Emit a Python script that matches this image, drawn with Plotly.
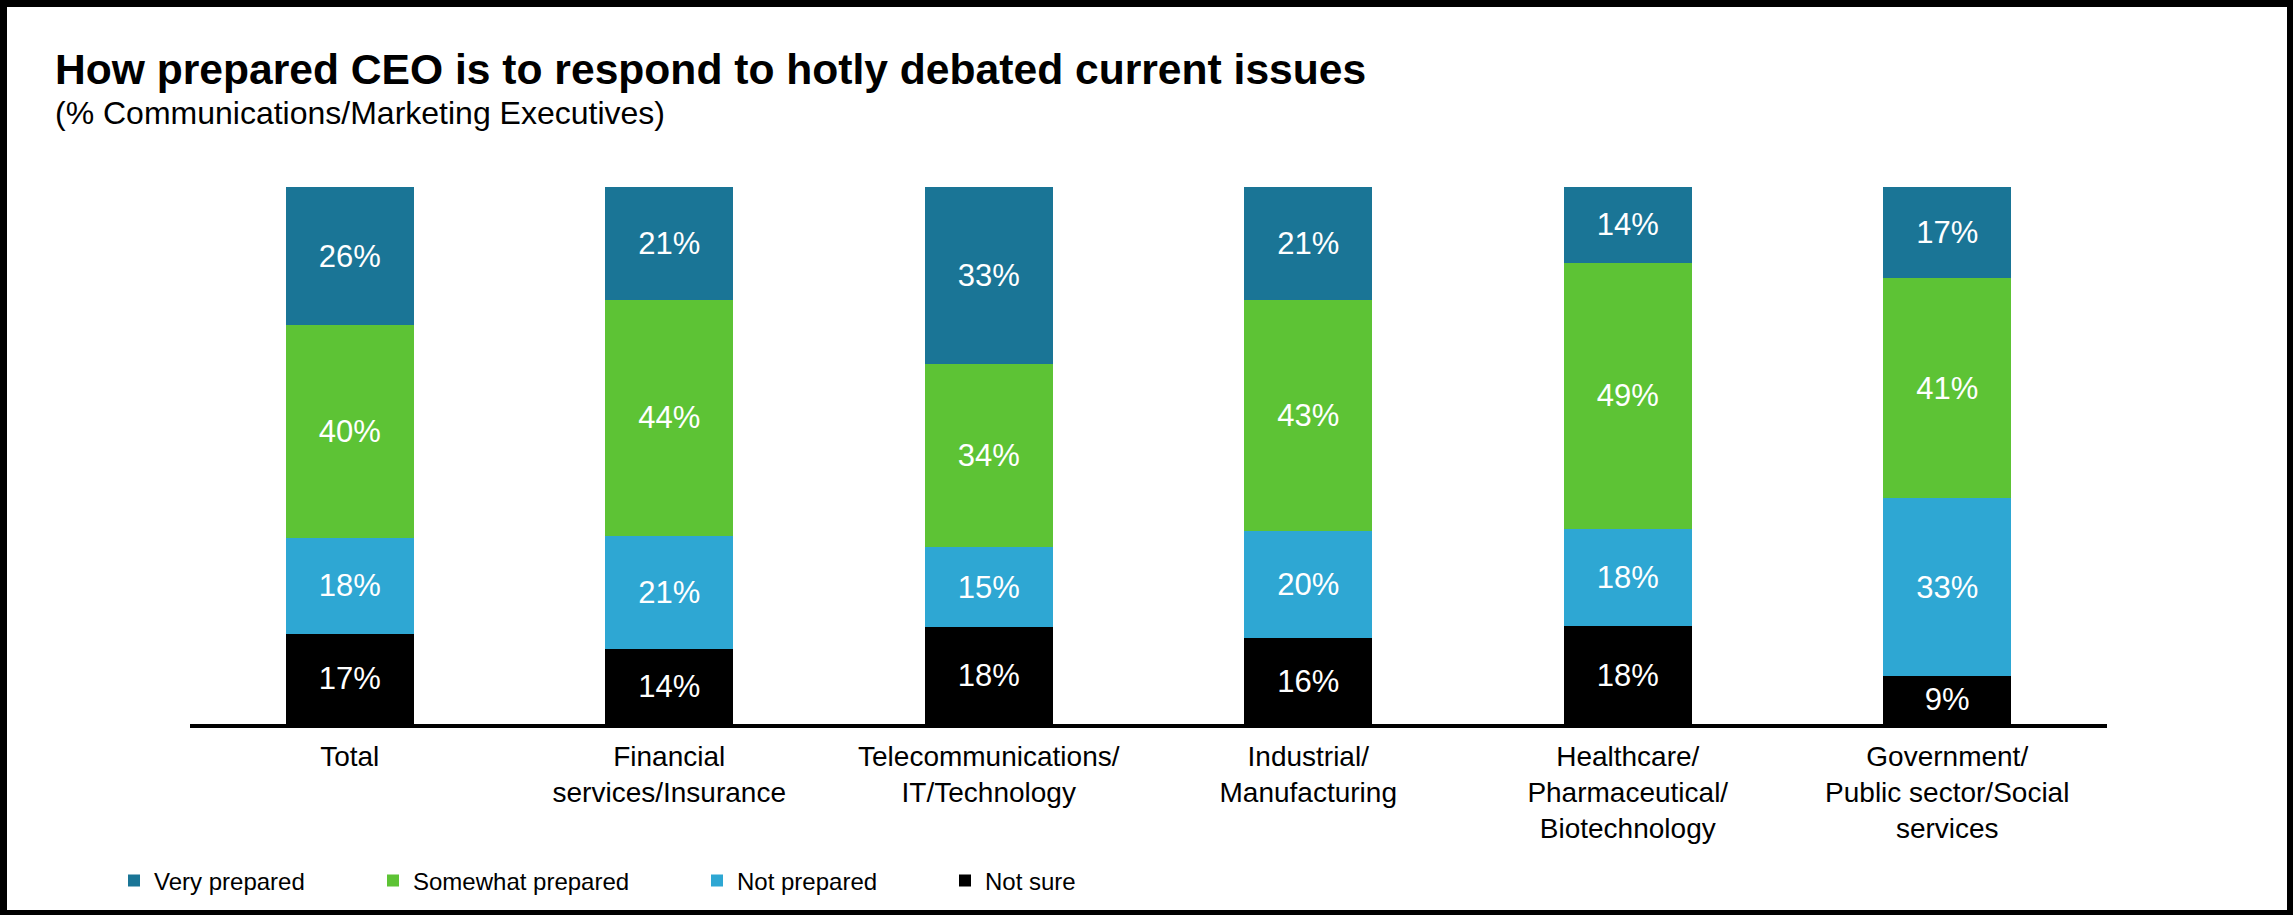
import plotly.graph_objects as go

# ---- data ----
categories = [
    "Total",
    "Financial<br>services/Insurance",
    "Telecommunications/<br>IT/Technology",
    "Industrial/<br>Manufacturing",
    "Healthcare/<br>Pharmaceutical/<br>Biotechnology",
    "Government/<br>Public sector/Social<br>services",
]
very_prepared = [26, 21, 33, 21, 14, 17]
somewhat_prepared = [40, 44, 34, 43, 49, 41]
not_prepared = [18, 21, 15, 20, 18, 33]
not_sure = [17, 14, 18, 16, 18, 9]

series_names = ["Not sure", "Not prepared", "Somewhat prepared", "Very prepared"]
series_values = [not_sure, not_prepared, somewhat_prepared, very_prepared]
series_colors = ["#000000", "#2EA7D3", "#5DC335", "#1A7596"]
legend_ids = ["legend4", "legend3", "legend2", "legend"]

title_text = "How prepared CEO is to respond to hotly debated current issues"
subtitle_text = "(% Communications/Marketing Executives)"

# ---- geometry (pixels) ----
W, H = 2293, 915
ML, MR, MT, MB = 190, 186, 187, 191
PW = W - ML - MR
PH = H - MT - MB
FONT = "Liberation Sans, Arial, sans-serif"


def px_x(px):
    return (px - ML) / PW


def px_y(py):
    return (H - MB - py) / PH


fig = go.Figure()
for name, vals, col, lg in zip(series_names, series_values, series_colors, legend_ids):
    fig.add_trace(go.Bar(
        x=categories,
        y=vals,
        name=name,
        marker=dict(color=col, line=dict(width=0)),
        text=[f"{v}%" for v in vals],
        textposition="inside",
        insidetextanchor="middle",
        textangle=0,
        constraintext="none",
        insidetextfont=dict(family=FONT, size=31, color="white"),
        legend=lg,
        hovertemplate="%{x}<br>" + name + ": %{text}<extra></extra>",
    ))

# legend positions (left edge in px) for each entry
legend_left_px = {"legend": 114, "legend2": 373, "legend3": 697, "legend4": 945}
legend_cfg = {}
for key, lx in legend_left_px.items():
    legend_cfg[key] = dict(
        x=px_x(lx), xanchor="left",
        y=px_y(881), yanchor="middle",
        orientation="h",
        font=dict(family=FONT, size=24, color="#000000"),
        bgcolor="rgba(0,0,0,0)",
        borderwidth=0,
    )

fig.update_layout(
    width=W, height=H,
    margin=dict(l=ML, r=MR, t=MT, b=MB, pad=0),
    paper_bgcolor="white",
    plot_bgcolor="white",
    barmode="stack",
    barnorm="percent",
    bargap=0.6,
    showlegend=True,
    font=dict(family=FONT, color="#000000"),
    title=dict(
        text=f"<b>{title_text}</b>",
        x=55 / W, xanchor="left", xref="container",
        y=1 - 69 / H, yanchor="middle", yref="container",
        font=dict(family=FONT, size=42.6, color="#000000"),
    ),
    xaxis=dict(
        type="category",
        range=[-0.5, 5.5],
        showline=True, linecolor="#000000", linewidth=4,
        ticks="", showgrid=False, zeroline=False,
        tickfont=dict(family=FONT, size=28, color="#000000"),
        ticklabelstandoff=4,
        fixedrange=True,
    ),
    yaxis=dict(
        range=[0, 100], visible=False, showgrid=False, zeroline=False,
        fixedrange=True,
    ),
    **legend_cfg,
)

fig.add_annotation(
    text=subtitle_text,
    xref="paper", yref="paper",
    x=px_x(53), xanchor="left",
    y=px_y(113), yanchor="middle",
    showarrow=False,
    font=dict(family=FONT, size=32, color="#000000"),
)

# outer black frame
frame = [
    (0, 0, W, 7),        # top
    (0, 0, 7, H),        # left
    (W - 6, 0, W, H),    # right
    (0, H - 5, W, H),    # bottom
]
for x0, y0, x1, y1 in frame:
    fig.add_shape(
        type="rect", xref="paper", yref="paper",
        x0=px_x(x0), x1=px_x(x1), y0=px_y(y1), y1=px_y(y0),
        fillcolor="#000000", line=dict(width=0), layer="above",
    )

fig.write_html(
    "out.html",
    config={"displayModeBar": False},
    post_script="document.body.style.margin='0';document.body.style.overflow='hidden';",
)
